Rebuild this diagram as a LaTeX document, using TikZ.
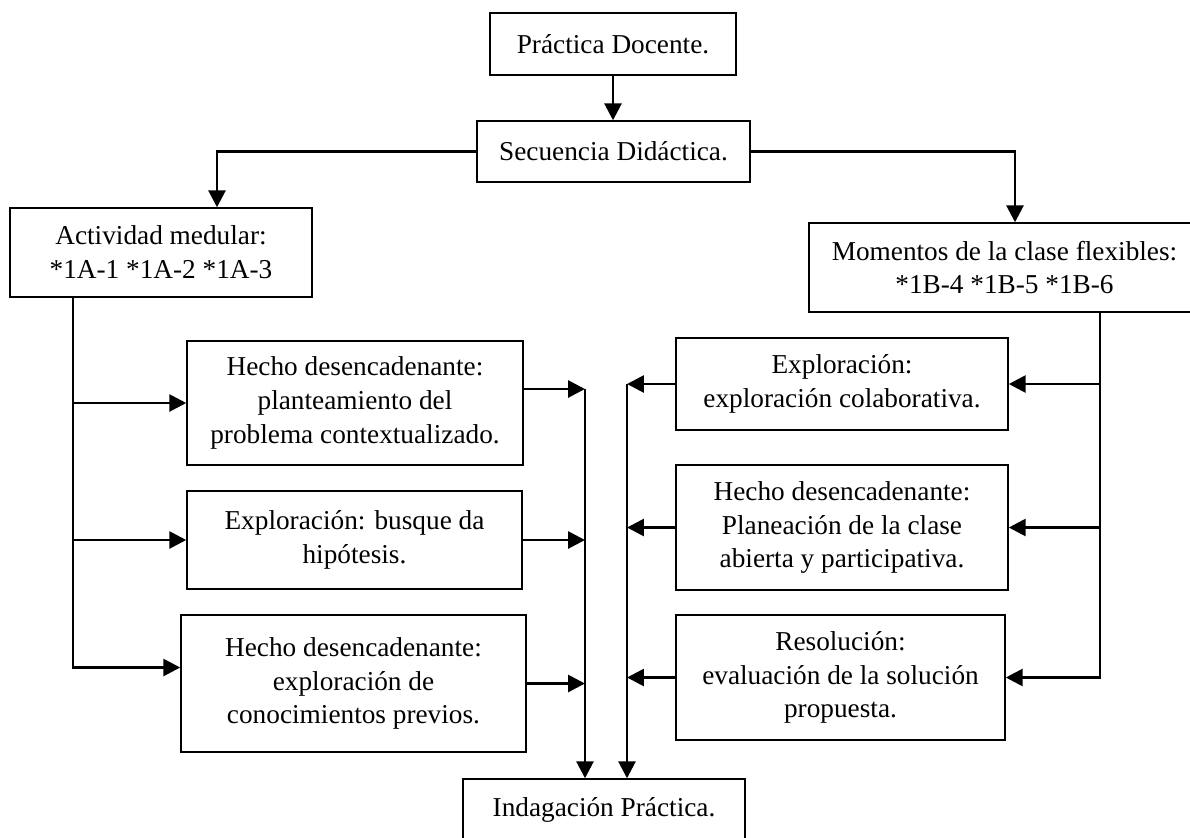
\documentclass[tikz,border=0pt]{standalone}
\usepackage{fontspec}
\setmainfont{Liberation Serif}
\usetikzlibrary{arrows.meta,positioning,calc}

\begin{document}
\begin{tikzpicture}[x=0.025cm, y=-0.025cm,
  box/.style={draw, line width=1pt, align=center, inner sep=0pt,
    font=\fontsize{19.4}{24}\selectfont},
  arr/.style={line width=2pt, -{Triangle[length=12pt, width=12pt]}}]
  \useasboundingbox (0,0) rectangle (1190,837);

  % top of the chart
  \node[box, minimum width=6.15cm, minimum height=1.55cm] (pd) at (613,44) {Práctica Docente.};
  \node[box, minimum width=6.825cm, minimum height=1.525cm] (sd) at (613.5,151.5) {Secuencia Didáctica.};
  \node[box, minimum width=7.55cm, minimum height=2.225cm] (am) at (161,252.5) {Actividad medular:\\*1A-1 *1A-2 *1A-3};
  \node[box, minimum width=9.775cm, minimum height=2.225cm] (mc) at (1004.5,267.5) {Momentos de la clase flexibles:\\*1B-4 *1B-5 *1B-6};

  % left column
  \node[box, minimum width=8.4cm, minimum height=3.1cm] (l1) at (355,403) {Hecho desencadenante:\\planteamiento del\\problema contextualizado.};
  \node[box, minimum width=8.375cm, minimum height=2.45cm] (l2) at (354.5,540) {Exploración: busque da\\hipótesis.};
  \node[box, minimum width=8.625cm, minimum height=3.425cm] (l3) at (353.5,683.5) {Hecho desencadenante:\\exploración de\\conocimientos previos.};

  % right column
  \node[box, minimum width=8.3cm, minimum height=2.3cm] (r1) at (842,384) {Exploración:\\exploración colaborativa.};
  \node[box, minimum width=8.3cm, minimum height=3.125cm] (r2) at (842,527.5) {Hecho desencadenante:\\Planeación de la clase\\abierta y participativa.};
  \node[box, minimum width=8.225cm, minimum height=3.125cm] (r3) at (840.5,677.5) {Resolución:\\evaluación de la solución\\propuesta.};

  % bottom
  \node[box, minimum width=7.05cm, minimum height=1.55cm] (ip) at (604,810) {Indagación Práctica.};

  \draw[arr] (pd.south) -- (pd.south |- sd.north);
  \draw[arr] (sd.west) -| ($(am.north)+(56,0)$);
  \draw[arr] (sd.east) -| ($(mc.north)+(10.5,0)$);

  \coordinate (lt) at ($(am.south)+(-88,0)$);
  \draw[arr] (lt) |- ($(l3.west)+(0,-16)$);
  \draw[arr] (l1.west -| lt) -- (l1.west);
  \draw[arr] (l2.west -| lt) -- (l2.west);

  \coordinate (rt) at ($(mc.south)+(95.5,0)$);
  \draw[arr] (rt) |- (r3.east);
  \draw[arr] (r1.east -| rt) -- (r1.east);
  \draw[arr] (r2.east -| rt) -- (r2.east);

  \coordinate (lc) at (585,389);
  \coordinate (rc) at (627,384);
  \draw[arr] ($(l1.east)+(0,-14)$) -- (lc);
  \draw[arr] (l2.east) -- (l2.east -| lc);
  \draw[arr] (l3.east) -- (l3.east -| lc);
  \draw[arr] (lc) -- (lc |- ip.north);
  \draw[arr] (r1.west) -- (r1.west -| rc);
  \draw[arr] (r2.west) -- (r2.west -| rc);
  \draw[arr] (r3.west) -- (r3.west -| rc);
  \draw[arr] (rc) -- (rc |- ip.north);
\end{tikzpicture}
\end{document}
